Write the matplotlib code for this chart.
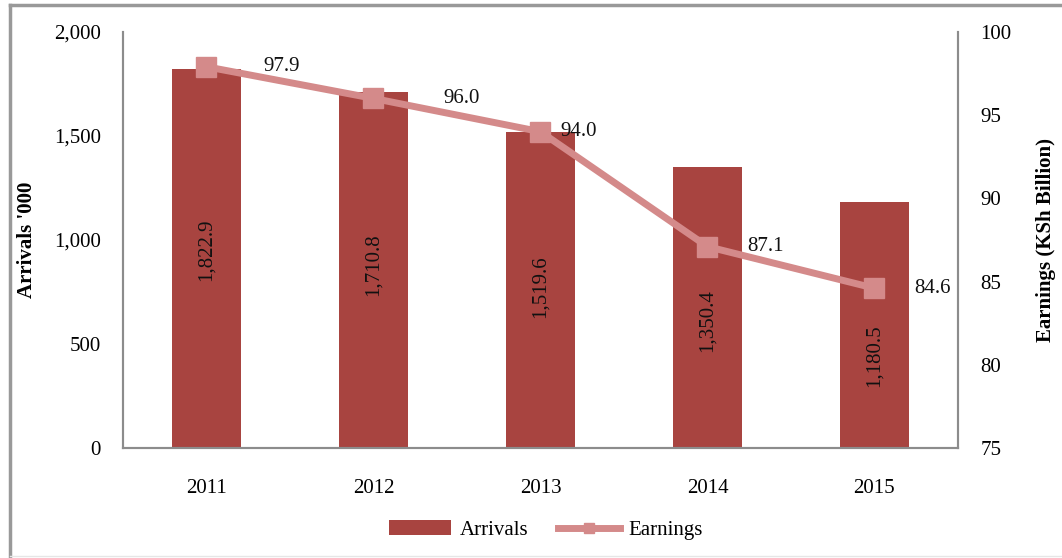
import matplotlib.pyplot as plt
from matplotlib.lines import Line2D
from matplotlib.ticker import FuncFormatter

# --- Data ---
years = ["2011", "2012", "2013", "2014", "2015"]
arrivals = [1822.9, 1710.8, 1519.6, 1350.4, 1180.5]
earnings = [97.9, 96.0, 94.0, 87.1, 84.6]
earn_offsets = [57, 70, 20, 40, 40]     # line label x offsets, pixels
bar_label_shift = [9, 5, 3, -13, -30]   # bar label y shifts from bar middle, pixels

BAR_COLOR = "#A84440"
LINE_COLOR = "#D48A8A"
SPINE_COLOR = "#8C8C8C"
FS = 15
PX = 0.72  # pixels -> points at 100 dpi

plt.rcParams["font.family"] = ["Liberation Serif", "DejaVu Serif"]
plt.rcParams["font.size"] = FS

fig = plt.figure(figsize=(10.62, 5.58), dpi=100)
ax1 = fig.add_axes([0.1158, 0.197, 0.902 - 0.1158, 0.943 - 0.197])
ax2 = ax1.twinx()

x = list(range(len(years)))

# --- Bars (arrivals) ---
ax1.bar(x, arrivals, width=0.41, color=BAR_COLOR, label="Arrivals", zorder=2)
for xi, v, dy in zip(x, arrivals, bar_label_shift):
    ax1.annotate(f"{v:,.1f}", (xi, v / 2), xytext=(0, dy * PX), textcoords="offset points",
                 rotation=90, ha="center", va="center", fontsize=FS, color="#111111", zorder=3)

ax1.set_xlim(-0.5, 4.5)
ax1.set_ylim(0, 2000)
ax1.set_yticks([0, 500, 1000, 1500, 2000])
ax1.yaxis.set_major_formatter(FuncFormatter(lambda v, p: f"{int(v):,}"))
ax1.set_xticks(x)
ax1.set_xticklabels(years)
ax1.set_ylabel("Arrivals '000", fontweight="bold", fontsize=FS, labelpad=12)
ax1.tick_params(axis="y", length=0, pad=16)
ax1.tick_params(axis="x", length=0, pad=22)

# --- Line (earnings) ---
ax2.plot(x, earnings, color=LINE_COLOR, linewidth=5, marker="s", markersize=14,
         label="Earnings", zorder=4)
for xi, v, dx in zip(x, earnings, earn_offsets):
    ax2.annotate(f"{v:.1f}", (xi, v), xytext=(dx * PX, 0), textcoords="offset points",
                 ha="left", va="center", fontsize=FS, color="#111111")

ax2.set_ylim(75, 100)
ax2.set_yticks([75, 80, 85, 90, 95, 100])
ax2.set_ylabel("Earnings (KSh Billion)", fontweight="bold", fontsize=FS, labelpad=18)
ax2.tick_params(axis="y", length=0, pad=16)

for a in (ax1, ax2):
    a.spines["top"].set_visible(False)
    for s in ("left", "right", "bottom"):
        a.spines[s].set_color(SPINE_COLOR)
        a.spines[s].set_linewidth(1.5)

# --- Legend ---
h1, l1 = ax1.get_legend_handles_labels()
h2, l2 = ax2.get_legend_handles_labels()
fig.legend(h1 + h2, l1 + l2, loc="center", bbox_to_anchor=(0.514, 0.05), ncol=2,
           frameon=False, fontsize=FS, handlelength=3.0, handletextpad=0.4,
           columnspacing=1.4, markerscale=0.5)

# --- Outer frame (left and top edges, faint bottom) ---
fig.add_artist(Line2D([0.009, 0.009], [0.0, 0.991], transform=fig.transFigure,
                      color="#999999", linewidth=2.5))
fig.add_artist(Line2D([0.009, 1.0], [0.991, 0.991], transform=fig.transFigure,
                      color="#999999", linewidth=2.5))
fig.add_artist(Line2D([0.009, 1.0], [0.003, 0.003], transform=fig.transFigure,
                      color="#E6E6E6", linewidth=1))

fig.savefig("out.png", dpi=100)
